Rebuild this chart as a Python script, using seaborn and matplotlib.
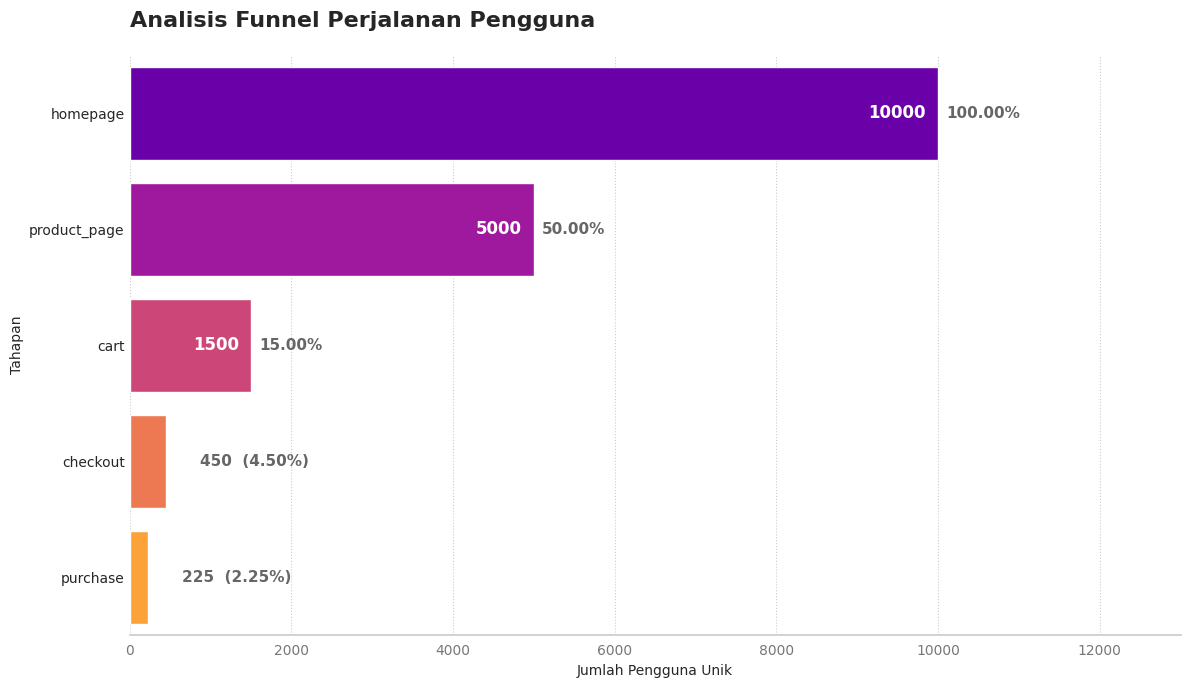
import matplotlib
matplotlib.use("Agg")
import matplotlib.pyplot as plt
import seaborn as sns
import pandas as pd

stages = ["homepage", "product_page", "cart", "checkout", "purchase"]
users = [10000, 5000, 1500, 450, 225]
pct = [100.00, 50.00, 15.00, 4.50, 2.25]
colors = ["#6a00a8", "#9e199d", "#cc4778", "#ed7953", "#fba238"]

df = pd.DataFrame({"stage": stages, "users": users})

sns.set_theme(style="white")
fig, ax = plt.subplots(figsize=(11.89, 6.89), dpi=100)
sns.barplot(data=df, x="users", y="stage", hue="stage", palette=colors,
            legend=False, width=0.8, saturation=1, ax=ax)

for i, (u, p) in enumerate(zip(users, pct)):
    if u >= 1000:
        ax.text(u - 150, i, f"{u}", ha="right", va="center", color="white",
                fontsize=12, fontweight="bold")
        ax.text(u + 100, i, f"{p:.2f}%", ha="left", va="center", color="#666666",
                fontsize=11, fontweight="bold")
    else:
        ax.text(u + 420, i, f"{u}  ({p:.2f}%)", ha="left", va="center",
                color="#666666", fontsize=11, fontweight="bold")

ax.set_xlim(0, 13000)
ax.grid(axis="x", linestyle=":", color="#cccccc", linewidth=0.8)
ax.set_axisbelow(True)
for s in ["top", "right", "left"]:
    ax.spines[s].set_visible(False)
ax.spines["bottom"].set_color("#cccccc")
ax.tick_params(axis="x", colors="#777777", labelsize=10, length=3)
ax.tick_params(axis="y", labelsize=10, length=0)
for t in ax.get_xticklabels():
    t.set_color("#777777")
ax.set_xlabel("Jumlah Pengguna Unik", fontsize=10)
ax.set_ylabel("Tahapan", fontsize=10)
ax.set_title("Analisis Funnel Perjalanan Pengguna", loc="left", fontsize=16,
             fontweight="bold", pad=20)

plt.subplots_adjust(left=0.109, right=0.993, top=0.92, bottom=0.078)
plt.savefig("out.png")
